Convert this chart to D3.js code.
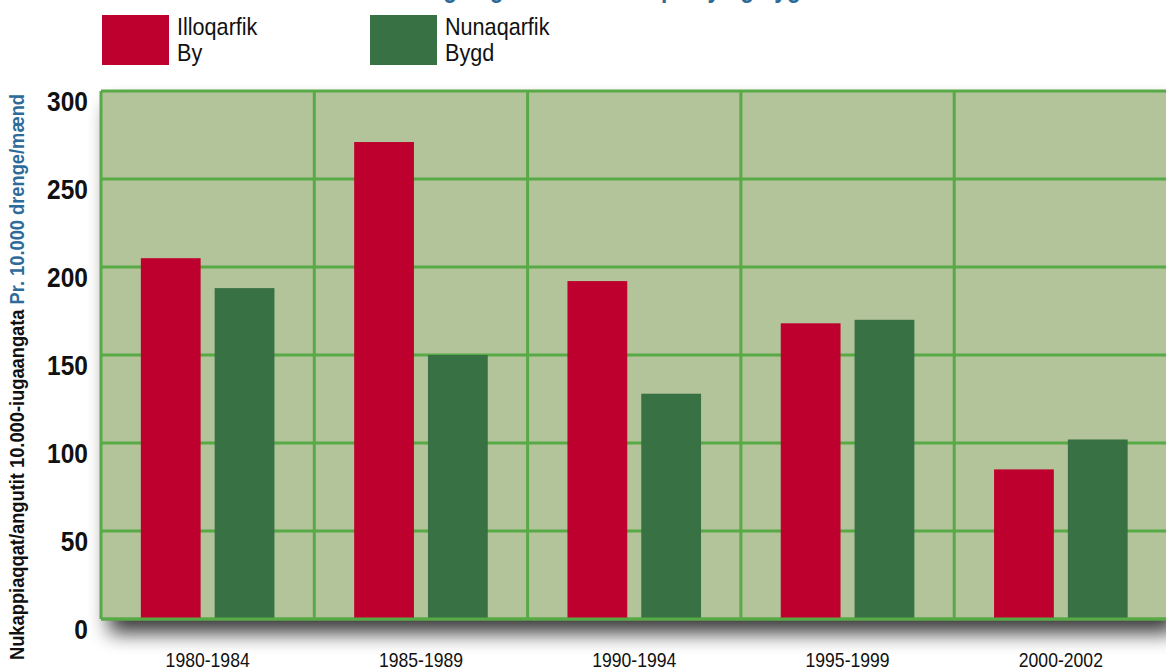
<!DOCTYPE html>
<html><head><meta charset="utf-8">
<script src="https://cdn.jsdelivr.net/npm/d3@7"></script>
<style>
html,body{margin:0;padding:0;background:#fff;}
svg{display:block;}
text{font-family:"Liberation Sans",Arial,Helvetica,sans-serif;}
</style></head>
<body>
<svg id="chart" width="1166" height="670"></svg>
<script>
const categories = ["1980-1984","1985-1989","1990-1994","1995-1999","2000-2002"];
const seriesNames = ["Illoqarfik|By","Nunaqarfik|Bygd"];
const byValues   = [205, 271, 192, 168, 85];
const bygdValues = [188, 150, 128, 170, 102];
const yTicks = [0,50,100,150,200,250,300];
const titleText = "Selvmord blandt drenge og mænd fordelt på by og bygd";
const yTitleBlack = "Nukappiaqqat/angutit 10.000-iugaangata ";
const yTitleBlue = "Pr. 10.000 drenge/mænd";

const colors = ["#bd002d","#387144"];
const svg = d3.select("#chart");
const W = 1166, H = 670;
const m = {left:101, top:91, right:-1.5, bottom:51};
const pw = W - m.left - m.right, ph = H - m.top - m.bottom;

const defs = svg.append("defs");
const f = defs.append("filter").attr("id","sh").attr("x","-20%").attr("y","-20%").attr("width","140%").attr("height","140%");
f.append("feGaussianBlur").attr("stdDeviation",10);

const x0 = d3.scaleBand().domain(categories).range([0,pw]).padding(0);
const x1 = d3.scaleBand().domain([0,1]).range([0,x0.bandwidth()]).paddingInner(0.19).paddingOuter(0.54);
const y = d3.scaleLinear().domain([0,300]).range([ph,0]);

function ctext(parent, x, yy, str, size, sx, opts={}) {
  const t = parent.append("text")
    .attr("transform", `translate(${x},${yy}) scale(${sx},1)`)
    .attr("font-size", size)
    .attr("font-weight", opts.bold ? "bold" : "normal")
    .attr("text-anchor", opts.anchor || "start")
    .attr("fill", opts.fill || "#111");
  if (str !== null) t.text(str);
  return t;
}

// cut-off title (only its descenders are visible, as in the source)
const tg = svg.append("g");
const t = ctext(tg, 0, -3, titleText, 27, 0.84, {bold:true, fill:"#2d6a97"});
try {
  const px = t.node().getStartPositionOfChar(titleText.indexOf("på")).x * 0.84;
  t.attr("transform", `translate(${661 - px},-3) scale(0.84,1)`);
} catch(e){ t.attr("transform","translate(300,-3) scale(0.84,1)"); }

// legend
const lg = svg.append("g");
seriesNames.forEach((s,i)=>{
  const gx = 102 + i*268;
  lg.append("rect").attr("x",gx).attr("y",15).attr("width",67).attr("height",50).attr("fill",colors[i]);
  s.split("|").forEach((p,j)=>{
    ctext(lg, gx+75, 35+j*26, p, 24, 0.9);
  });
});

const g = svg.append("g").attr("transform",`translate(${m.left},${m.top})`);
// shadow
g.append("rect").attr("x",8).attr("y",14).attr("width",pw).attr("height",ph)
  .attr("fill","#000").attr("opacity",0.78).attr("filter","url(#sh)");
g.append("rect").attr("x",0).attr("y",0).attr("width",pw).attr("height",ph).attr("fill","#b3c39a");

// grid
const gridCol = "#58aa46";
g.selectAll(".hg").data(yTicks).join("line")
  .attr("x1",0).attr("x2",pw).attr("y1",d=>y(d)).attr("y2",d=>y(d))
  .attr("stroke",gridCol).attr("stroke-width",3);
const vlines = categories.map(c=>x0(c)).concat([pw]);
g.selectAll(".vg").data(vlines).join("line")
  .attr("x1",d=>d).attr("x2",d=>d).attr("y1",0).attr("y2",ph)
  .attr("stroke",gridCol).attr("stroke-width",3);

// bars
const data = categories.map((c,i)=>({c, v:[byValues[i], bygdValues[i]]}));
const grp = g.selectAll(".grp").data(data).join("g").attr("transform",d=>`translate(${x0(d.c)},0)`);
grp.selectAll("rect").data(d=>d.v.map((v,k)=>({v,k}))).join("rect")
  .attr("x",d=>x1(d.k)).attr("width",x1.bandwidth())
  .attr("y",d=>y(d.v)).attr("height",d=>ph - y(d.v) - 1)
  .attr("fill",d=>colors[d.k]);

g.append("line").attr("x1",0).attr("x2",pw).attr("y1",ph).attr("y2",ph).attr("stroke",gridCol).attr("stroke-width",3);

// y tick labels
const ya = g.append("g");
yTicks.forEach(v=>{
  ctext(ya, -13, y(v) + 20, String(v), 28.5, 0.86, {bold:true, anchor:"end"});
});

// x labels
const xa = g.append("g");
categories.forEach(c=>{
  ctext(xa, x0(c) + x0.bandwidth()/2, ph + 48, c, 20, 0.88, {anchor:"middle"});
});

// y title
const yt = svg.append("text")
  .attr("transform","translate(24,660) rotate(-90)")
  .attr("font-size",20).attr("font-weight","bold").attr("fill","#111")
  .attr("textLength",566).attr("lengthAdjust","spacingAndGlyphs");
yt.append("tspan").text(yTitleBlack);
yt.append("tspan").attr("fill","#2e6b99").text(yTitleBlue);
</script>
</body></html>
